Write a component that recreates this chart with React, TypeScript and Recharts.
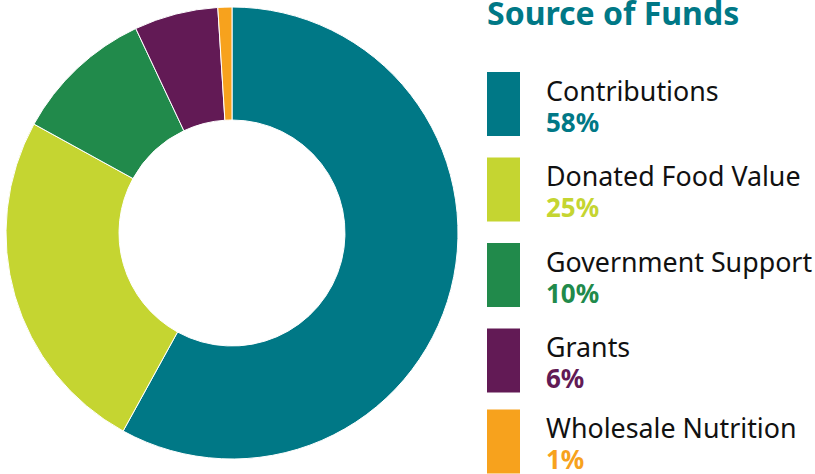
import React from "react";
import { PieChart, Pie, Cell } from "recharts";

const categories = ["Contributions", "Donated Food Value", "Government Support", "Grants", "Wholesale Nutrition"];
const shares = [58, 25, 10, 6, 1];
const colors = ["#007886", "#c5d531", "#218a4b", "#621a55", "#f7a21d"];
const title = "Source of Funds";

const data = categories.map((name, i) => ({ name, value: shares[i] }));

const legendTops = [72, 157.5, 243, 328.5, 409.5];
const FONT = "'Noto Sans', 'Open Sans', sans-serif";

export default function App() {
  return (
    <div style={{ position: "absolute", left: 0, top: 0, width: 815, height: 474, background: "#fff", overflow: "hidden" }}>
      <PieChart width={815} height={474} margin={{ top: 0, right: 0, bottom: 0, left: 0 }}>
        <Pie
          data={data}
          dataKey="value"
          nameKey="name"
          cx={232}
          cy={233}
          innerRadius={113}
          outerRadius={226}
          startAngle={90}
          endAngle={-270}
          stroke="#ffffff"
          strokeWidth={1}
          isAnimationActive={false}
        >
          {data.map((d, i) => (
            <Cell key={d.name} fill={colors[i]} />
          ))}
        </Pie>
      </PieChart>
      <svg width={815} height={474} style={{ position: "absolute", left: 0, top: 0 }}>
        <text x={487} y={25} fill={colors[0]} fontFamily={FONT} fontWeight={700} fontSize={32}>
          {title}
        </text>
        {data.map((d, i) => (
          <g key={d.name}>
            <rect x={487} y={legendTops[i]} width={33} height={64} fill={colors[i]} />
            <text x={546} y={legendTops[i] + 28.5} fill="#111" fontFamily={FONT} fontSize={26.8}>
              {d.name}
            </text>
            <text x={546} y={legendTops[i] + 59.5} fill={colors[i]} fontFamily={FONT} fontWeight={700} fontSize={26}>
              {`${d.value}%`}
            </text>
          </g>
        ))}
      </svg>
    </div>
  );
}
